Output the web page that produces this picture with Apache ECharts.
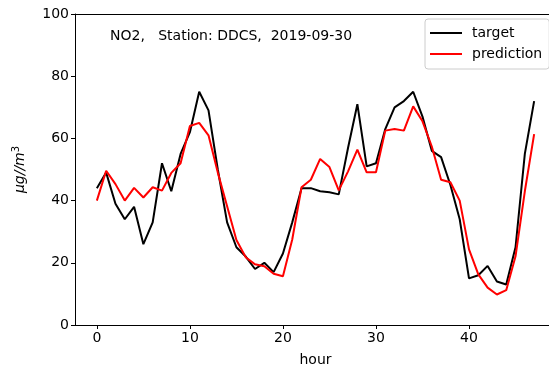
<!DOCTYPE html>
<html><head><meta charset="utf-8">
<script src="https://cdn.jsdelivr.net/npm/echarts@6/dist/echarts.min.js"></script>
<style>html,body{margin:0;padding:0;background:#fff}#c{width:549px;height:370px}</style>
</head><body><div id="c"></div>
<script>
const hours = Array.from({length:48},(_,i)=>i);
const target = [44,49,39,34,38,26,33,52,43,55,62,75,69,50,33,25,22,18,20,17,23,33,44,44,43,42.7,42,57,71,51,52,63,70,72,75,67,56,54,45,34,15,16,19,14,13,25,55,72];
const prediction = [40,49.6,45.3,40,44.1,41,44.3,43.2,48.9,52,64,65,61,49,38.2,27.3,21.8,19.5,18.9,16.5,15.7,27.5,44.3,46.7,53.4,50.8,43.3,49.4,56.4,49.1,49.1,62.5,63,62.5,70.3,65.5,57.4,46.7,45.9,40,24.3,16.3,12,9.8,11.2,22.1,43,61.4];
const xTicks = [0,10,20,30,40];
const yTicks = [0,20,40,60,80,100];
const titleText = 'NO2,   Station: DDCS,  2019-09-30';

const chart = echarts.init(document.getElementById('c'), null, {renderer:'canvas'});
const font = 'DejaVu Sans';
const frameAxis = {show:true,axisLine:{show:true,onZero:false,lineStyle:{color:'#000',width:1}},axisTick:{show:false},axisLabel:{show:false},splitLine:{show:false}};
chart.setOption({
  animation:false,
  backgroundColor:'#fff',
  textStyle:{fontFamily:font},
  title:{text:titleText,left:105,top:24,textStyle:{fontFamily:font,fontSize:14,fontWeight:'normal',color:'#000'}},
  legend:{
    data:['target','prediction'],
    left:425,top:19,orient:'vertical',
    itemWidth:32,itemHeight:2,itemGap:7,
    padding:[7,7,8,5],
    borderColor:'#cccccc',borderWidth:1,borderRadius:3,
    backgroundColor:'rgba(255,255,255,0.8)',
    textStyle:{fontFamily:font,fontSize:14,color:'#000',padding:[0,0,0,5]},
    icon:'rect'
  },
  grid:{left:75,top:14,bottom:45,right:-7,outerBoundsMode:'none',containLabel:false,show:false},
  xAxis:[{
    type:'value',min:-2.35,max:49.35,position:'bottom',
    name:'hour',nameLocation:'middle',nameGap:28,
    nameTextStyle:{fontFamily:font,fontSize:14,color:'#000'},
    axisLine:{show:true,onZero:false,lineStyle:{color:'#000',width:1}},
    axisTick:{show:true,length:4,customValues:xTicks,lineStyle:{color:'#000'}},
    axisLabel:{customValues:xTicks,fontFamily:font,fontSize:14,color:'#000',margin:6},
    splitLine:{show:false}
  },Object.assign({type:'value',min:-2.35,max:49.35,position:'top'},frameAxis)],
  yAxis:[{
    type:'value',min:0,max:100,interval:20,position:'left',
    name:'{i|μg//m}{s|3}',nameLocation:'middle',nameGap:46,
    nameTextStyle:{fontFamily:font,fontSize:14,color:'#000',
      rich:{i:{fontFamily:font,fontSize:14,fontStyle:'italic',color:'#000'},s:{fontFamily:font,fontSize:10,color:'#000',verticalAlign:'top',padding:[0,0,8,0]}}},
    axisLine:{show:true,onZero:false,lineStyle:{color:'#000',width:1}},
    axisTick:{show:true,length:4,lineStyle:{color:'#000'}},
    axisLabel:{fontFamily:font,fontSize:14,color:'#000',margin:6,formatter:v=>yTicks.includes(v)?String(v):''},
    splitLine:{show:false}
  }],
  series:[
    {name:'target',type:'line',data:hours.map((h,i)=>[h,target[i]]),symbol:'none',lineStyle:{color:'#000',width:2},itemStyle:{color:'#000'}},
    {name:'prediction',type:'line',data:hours.map((h,i)=>[h,prediction[i]]),symbol:'none',lineStyle:{color:'#ff0000',width:2},itemStyle:{color:'#ff0000'}}
  ]
});
</script></body></html>
